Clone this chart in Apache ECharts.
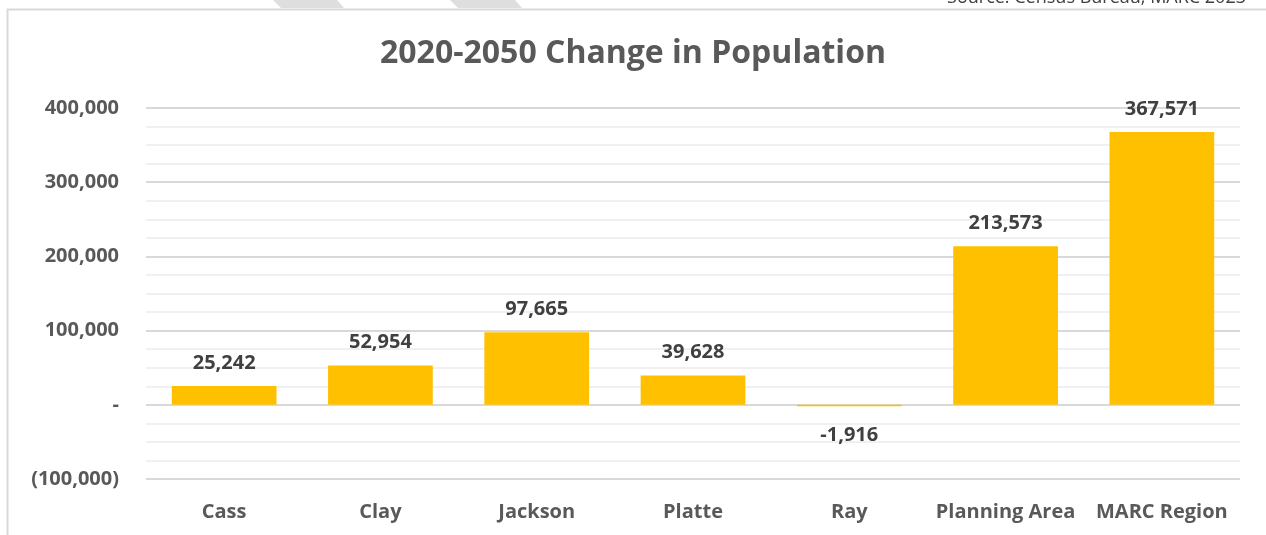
<!DOCTYPE html>
<html>
<head>
<meta charset="utf-8">
<script src="https://cdn.jsdelivr.net/npm/echarts@6/dist/echarts.min.js"></script>
<style>
  html, body { margin: 0; padding: 0; background: #fff; }
  #chart { width: 1266px; height: 535px; }
</style>
</head>
<body>
<div id="chart"></div>
<script>
// data
const places = ['Cass', 'Clay', 'Jackson', 'Platte', 'Ray', 'Planning Area', 'MARC Region'];
const popChange = [25242, 52954, 97665, 39628, -1916, 213573, 367571];

// Excel-style number format: 0 -> "-", negatives in brackets
function fmt(v) {
    if (v === 0) return '-';
    const s = Math.abs(v).toLocaleString('en-US');
    return v < 0 ? '(' + s + ')' : s;
}

const FONT = 'Open Sans';
const TXT = '#595959';

var myChart = echarts.init(document.getElementById('chart'));
var option = {
    backgroundColor: '#ffffff',
    animation: false,
    title: {
        text: '2020-2050 Change in Population',
        left: 'center',
        top: 33,
        textStyle: { fontFamily: FONT, fontSize: 32, fontWeight: 'bold', color: TXT }
    },
    graphic: [
        // frame of the chart area
        { type: 'rect', shape: { x: 7.5, y: 9.5, width: 1400, height: 700 },
          style: { fill: 'none', stroke: '#d9d9d9', lineWidth: 2 }, silent: true },
        // pieces of the page decoration above the chart
        { type: 'polygon', shape: { points: [[273, 0], [337, 0], [344, 8], [281, 8]] },
          style: { fill: '#dedede' }, silent: true },
        { type: 'polygon', shape: { points: [[450, 0], [515, 0], [522, 8], [458, 8]] },
          style: { fill: '#dedede' }, silent: true },
        { type: 'text', right: 20, top: -11,
          style: { text: 'Source: Census Bureau, MARC 2023', fontFamily: FONT, fontSize: 18, fill: '#404040' },
          silent: true }
    ],
    grid: { left: 146, right: 26, top: 108, bottom: 56 },
    xAxis: {
        type: 'category',
        data: places,
        axisLine: { show: false, onZero: false },
        axisTick: { show: false },
        axisLabel: { interval: 0, margin: 23, fontFamily: FONT, fontSize: 20, fontWeight: 'bold', color: TXT }
    },
    yAxis: {
        type: 'value',
        min: -100000,
        max: 400000,
        interval: 100000,
        axisLine: { show: false },
        axisTick: { show: false },
        axisLabel: { margin: 27, formatter: fmt, fontFamily: FONT, fontSize: 20, fontWeight: 'bold', color: TXT },
        splitLine: { lineStyle: { color: '#d9d9d9', width: 2 } },
        minorTick: { show: false, splitNumber: 4 },
        minorSplitLine: { show: true, lineStyle: { color: '#f0f0f0', width: 2 } }
    },
    series: [
        {
            type: 'bar',
            barCategoryGap: '33%',
            itemStyle: { color: '#ffc000' },
            label: {
                show: true,
                position: 'top',
                distance: 13,
                formatter: p => p.value.toLocaleString('en-US'),
                fontFamily: FONT, fontSize: 20, fontWeight: 'bold', color: '#404040'
            },
            data: popChange.map(v => v < 0 ? { value: v, label: { position: 'bottom', distance: 19 } } : v)
        }
    ]
};
myChart.setOption(option);
</script>
</body>
</html>
